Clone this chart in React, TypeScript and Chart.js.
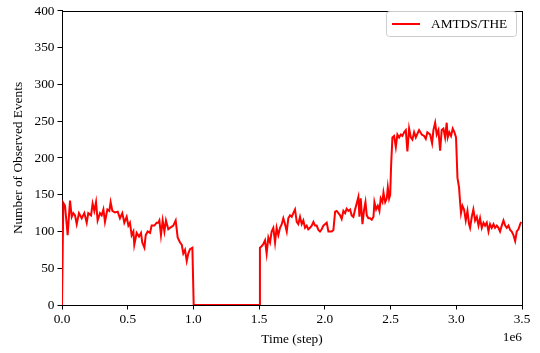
import React, { useEffect, useRef } from "react";
import { Chart, registerables } from "chart.js";

Chart.register(...registerables);

const seriesLabel = "AMTDS/THE";

// time in units of 1e6 steps
const timeMillions = [
  0.0, 0.01, 0.023, 0.043, 0.061, 0.074, 0.086, 0.099, 0.112, 0.129, 0.15, 0.17, 0.188, 0.2, 0.221, 0.233, 0.246,
  0.259, 0.271, 0.289, 0.302, 0.315, 0.327, 0.345, 0.36, 0.37, 0.383, 0.403, 0.424, 0.441, 0.459, 0.474, 0.492,
  0.505, 0.517, 0.53, 0.543, 0.55, 0.568, 0.586, 0.601, 0.611, 0.627, 0.637, 0.652, 0.67, 0.682, 0.703, 0.72,
  0.733, 0.741, 0.753, 0.766, 0.779, 0.791, 0.809, 0.83, 0.847, 0.865, 0.88, 0.898, 0.911, 0.923, 0.936, 0.949,
  0.961, 0.974, 0.992, 1.002, 1.5, 1.506, 1.519, 1.532, 1.545, 1.557, 1.57, 1.583, 1.595, 1.608, 1.621, 1.633,
  1.646, 1.659, 1.672, 1.684, 1.697, 1.71, 1.722, 1.735, 1.748, 1.76, 1.773, 1.786, 1.798, 1.811, 1.824, 1.836,
  1.849, 1.862, 1.874, 1.887, 1.9, 1.913, 1.925, 1.938, 1.951, 1.963, 1.976, 1.989, 2.001, 2.014, 2.027, 2.052,
  2.065, 2.078, 2.09, 2.103, 2.116, 2.128, 2.141, 2.154, 2.166, 2.179, 2.192, 2.204, 2.217, 2.23, 2.242, 2.255,
  2.263, 2.273, 2.286, 2.299, 2.309, 2.319, 2.331, 2.344, 2.357, 2.37, 2.377, 2.39, 2.403, 2.415, 2.425, 2.438,
  2.446, 2.459, 2.471, 2.479, 2.489, 2.497, 2.504, 2.514, 2.527, 2.54, 2.552, 2.565, 2.578, 2.59, 2.603, 2.616,
  2.628, 2.641, 2.654, 2.666, 2.679, 2.692, 2.704, 2.717, 2.737, 2.755, 2.768, 2.78, 2.801, 2.816, 2.826, 2.839,
  2.851, 2.864, 2.877, 2.889, 2.902, 2.915, 2.927, 2.935, 2.947, 2.96, 2.973, 2.986, 2.998, 3.009, 3.021, 3.029,
  3.036, 3.047, 3.059, 3.072, 3.085, 3.097, 3.105, 3.118, 3.13, 3.143, 3.156, 3.169, 3.181, 3.194, 3.207, 3.219,
  3.232, 3.245, 3.257, 3.27, 3.283, 3.295, 3.308, 3.321, 3.333, 3.346, 3.359, 3.372, 3.384, 3.397, 3.41, 3.422,
  3.435, 3.448, 3.46, 3.473, 3.486, 3.494,
];

const observedEvents = [
  0, 139, 135, 95, 142, 120, 125, 122, 110, 125, 118, 125, 112, 125, 122, 138, 128,
  140, 115, 125, 122, 130, 113, 130, 128, 140, 128, 126, 127, 118, 125, 112, 120,
  108, 112, 95, 100, 82, 98, 93, 98, 85, 78, 95, 100, 98, 108, 108, 112,
  112, 115, 95, 115, 100, 115, 103, 106, 108, 115, 92, 85, 82, 70, 75, 60,
  70, 76, 78, 0, 0, 78, 80, 83, 88, 70, 92, 85, 100, 105, 85, 105,
  95, 105, 110, 118, 110, 100, 118, 122, 120, 125, 130, 113, 110, 120, 110, 115,
  105, 108, 103, 105, 108, 113, 108, 108, 102, 100, 103, 108, 110, 112, 100, 100,
  102, 127, 128, 125, 122, 117, 128, 125, 131, 128, 130, 122, 120, 130, 138, 147,
  120, 145, 110, 130, 140, 122, 118, 118, 116, 120, 140, 130, 135, 128, 145, 140,
  153, 140, 145, 160, 145, 150, 189, 228, 230, 215, 232, 228, 232, 230, 235, 238,
  209, 240, 228, 225, 235, 228, 233, 238, 232, 230, 226, 235, 232, 220, 238, 248,
  232, 238, 210, 238, 240, 228, 248, 228, 235, 230, 240, 235, 228, 173, 160, 140,
  125, 135, 130, 115, 128, 110, 105, 120, 130, 115, 120, 108, 118, 105, 112, 108,
  112, 100, 110, 105, 110, 105, 108, 105, 100, 108, 115, 108, 105, 108, 102, 100,
  95, 87, 100, 103, 110, 113,
];

const xTickValues = [0, 0.5, 1.0, 1.5, 2.0, 2.5, 3.0, 3.5];
const yTickValues = [0, 50, 100, 150, 200, 250, 300, 350, 400];
const xAxisTitle = "Time (step)";
const yAxisTitle = "Number of Observed Events";
const xOffsetText = "1e6";

const FONT = "'Liberation Serif', 'Times New Roman', 'DejaVu Serif', serif";
const FS = 13.33;
const LINE_COLOR = "#ff0000";

export default function App() {
  const ref = useRef<HTMLCanvasElement>(null);

  useEffect(() => {
    document.body.style.margin = "0";
    const canvas = ref.current!;

    const framePlugin = {
      id: "frame",
      beforeDatasetsDraw(chart: any) {
        const { ctx, chartArea: a } = chart;
        ctx.save();
        ctx.strokeStyle = "#000";
        ctx.lineWidth = 1;
        ctx.strokeRect(Math.round(a.left) + 0.5, Math.round(a.top) + 0.5, Math.round(a.right - a.left), Math.round(a.bottom - a.top));
        ctx.restore();
      },
      afterDraw(chart: any) {
        const { ctx, chartArea: a } = chart;
        ctx.save();
        // offset text
        ctx.font = `${FS}px ${FONT}`;
        ctx.fillStyle = "#000";
        ctx.textAlign = "right";
        ctx.textBaseline = "middle";
        ctx.fillText(xOffsetText, a.right, 337);
        // legend
        const bx = 386.5, by = 11.5, bw = 130, bh = 25, r = 3;
        ctx.beginPath();
        ctx.moveTo(bx + r, by);
        ctx.lineTo(bx + bw - r, by);
        ctx.arcTo(bx + bw, by, bx + bw, by + r, r);
        ctx.lineTo(bx + bw, by + bh - r);
        ctx.arcTo(bx + bw, by + bh, bx + bw - r, by + bh, r);
        ctx.lineTo(bx + r, by + bh);
        ctx.arcTo(bx, by + bh, bx, by + bh - r, r);
        ctx.lineTo(bx, by + r);
        ctx.arcTo(bx, by, bx + r, by, r);
        ctx.closePath();
        ctx.fillStyle = "rgba(255,255,255,0.8)";
        ctx.fill();
        ctx.strokeStyle = "#cccccc";
        ctx.lineWidth = 1;
        ctx.stroke();
        const ds = chart.data.datasets[0];
        ctx.beginPath();
        ctx.moveTo(392, 24);
        ctx.lineTo(420, 24);
        ctx.strokeStyle = ds.borderColor;
        ctx.lineWidth = 2;
        ctx.stroke();
        ctx.fillStyle = "#000";
        ctx.textAlign = "left";
        ctx.textBaseline = "middle";
        ctx.fillText(ds.label, 431, 24.5);
        ctx.restore();
      },
    };

    const chart = new Chart(canvas, {
      type: "line",
      data: {
        datasets: [
          {
            label: seriesLabel,
            data: timeMillions.map((t, i) => ({ x: t, y: observedEvents[i] })),
            borderColor: LINE_COLOR,
            backgroundColor: LINE_COLOR,
            borderWidth: 2,
            pointRadius: 0,
            tension: 0,
            fill: false,
          },
        ],
      },
      options: {
        animation: false,
        responsive: false,
        maintainAspectRatio: false,
        layout: { padding: { top: 5, right: 18, left: 0, bottom: 0 } },
        plugins: { legend: { display: false }, tooltip: { enabled: false } },
        scales: {
          x: {
            type: "linear",
            min: 0,
            max: 3.5,
            afterBuildTicks: (s: any) => {
              s.ticks = xTickValues.map((v) => ({ value: v }));
            },
            afterFit: (s: any) => {
              s.height = 48;
            },
            ticks: {
              callback: (v: any) => Number(v).toFixed(1),
              color: "#000",
              font: { family: FONT, size: FS },
              padding: 2,
              maxRotation: 0,
              autoSkip: false,
            },
            grid: { display: true, drawOnChartArea: false, drawTicks: true, tickLength: 4.5, color: "#000" },
            border: { display: true, color: "#000", width: 1 },
            title: {
              display: true,
              text: xAxisTitle,
              color: "#000",
              font: { family: FONT, size: FS },
              padding: { top: 0, bottom: 6 },
            },
          },
          y: {
            type: "linear",
            min: 0,
            max: 400,
            afterBuildTicks: (s: any) => {
              s.ticks = yTickValues.map((v) => ({ value: v }));
            },
            afterFit: (s: any) => {
              s.width = 62;
            },
            ticks: {
              color: "#000",
              font: { family: FONT, size: FS },
              padding: 3,
              autoSkip: false,
            },
            grid: { display: true, drawOnChartArea: false, drawTicks: true, tickLength: 4.5, color: "#000" },
            border: { display: true, color: "#000", width: 1 },
            title: {
              display: true,
              text: yAxisTitle,
              color: "#000",
              font: { family: FONT, size: FS },
              padding: { top: 10, bottom: 0 },
            },
          },
        },
      },
      plugins: [framePlugin],
    });

    return () => chart.destroy();
  }, []);

  return <canvas ref={ref} width={540} height={353} style={{ display: "block" }} />;
}
